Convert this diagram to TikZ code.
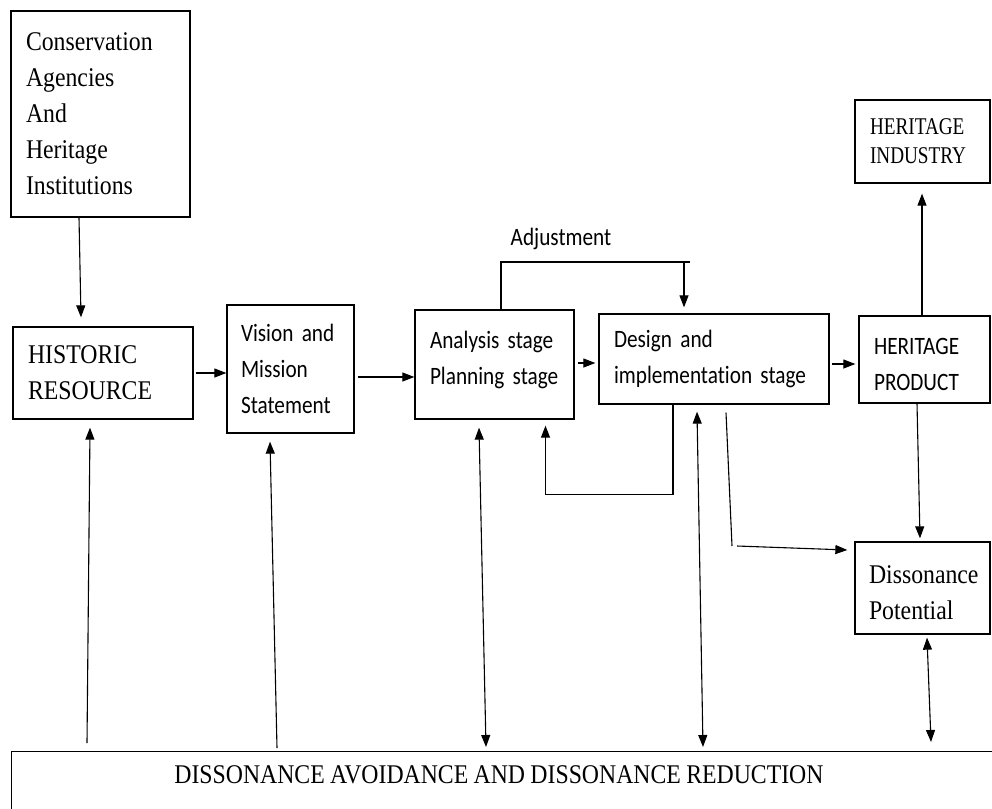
\documentclass[tikz,border=0pt]{standalone}
\usepackage{fontspec}
\setmainfont{Liberation Serif}[FakeStretch=0.88, WordSpace=0.9]
\newfontfamily\serifnarrow{Liberation Serif}[FakeStretch=0.8]
\newfontfamily\calfont{Carlito}[FakeStretch=0.85, WordSpace=0.8, Ligatures=CommonOff]
\usetikzlibrary{arrows.meta}
\begin{document}
\begin{tikzpicture}[x=1pt,y=-1pt,
  box/.style={draw, line width=1.3pt, inner ysep=0pt, align=left},
  arr/.style={-{Triangle[length=12pt,width=9pt]}, line width=1.1pt},
  darr/.style={{Triangle[length=12pt,width=9pt]}-{Triangle[length=12pt,width=9pt]}, line width=1.1pt},
  conn/.style={line width=1.1pt},
  serifL/.style={font=\fontsize{27}{36}\selectfont},
  serifS/.style={font=\serifnarrow\fontsize{24}{29}\selectfont},
  sansL/.style={font=\calfont\fontsize{25}{36}\selectfont}]
\useasboundingbox (0,0) rectangle (992,808);
\clip (0,0) rectangle (992,808);

% boxes
\node[box, serifL, minimum width=179pt, minimum height=206pt, text width=149pt, inner xsep=15pt] (cons) at (100.5,114) {Conservation\\Agencies\\And\\Heritage\\Institutions};
\node[box, serifL, minimum width=180pt, minimum height=92pt, text width=150pt, inner xsep=15pt] (hist) at (103,373) {HISTORIC\\RESOURCE};
\node[box, sansL, minimum width=127pt, minimum height=128pt, text width=99pt, inner xsep=14pt] (vis) at (290.5,369) {Vision and\\Mission\\Statement};
\node[box, sansL, minimum width=159pt, minimum height=109pt, text width=129pt, inner xsep=15pt] (ana) at (494.5,364.5) {Analysis stage\\Planning stage\rule[-14pt]{0pt}{14pt}};
\node[box, sansL, minimum width=230pt, minimum height=90pt, text width=200pt, inner xsep=15pt] (des) at (714,359) {Design and\\implementation stage};
\node[box, sansL, minimum width=131pt, minimum height=87pt, text width=101pt, inner xsep=15pt] (prod) at (924.5,359.5) {\rule{0pt}{26pt}HERITAGE\\PRODUCT};
\node[box, serifS, minimum width=135pt, minimum height=83pt, text width=105pt, inner xsep=15pt] (ind) at (922.5,141.5) {HERITAGE\\INDUSTRY};
\node[box, serifL, minimum width=135pt, minimum height=92pt, text width=107pt, inner xsep=14pt] (dpot) at (922.5,588) {\rule{0pt}{27pt}Dissonance\\Potential};
\node[draw, line width=1.3pt, minimum width=1000pt, minimum height=100pt, anchor=north west, inner sep=0pt] (botbox) at (11,751) {};
\node[serifL, inner sep=0pt] (bottxt) at (499,775) {DISSONANCE AVOIDANCE AND DISSONANCE REDUCTION};

% label
\node[sansL, inner sep=0pt] (adjtxt) at (561,239) {Adjustment};

% connectors
\draw[arr] ([xshift=-21.5pt]cons.south) -- ([xshift=-22pt,yshift=9pt]hist.north);

\coordinate (a2) at ([xshift=2pt]hist.east);
\draw[arr] (a2) -- (a2 -| vis.west);

\coordinate (a3) at ([xshift=3pt,yshift=-8pt]vis.east);
\draw[arr] (a3) -- (a3 -| ana.west);

\coordinate (a4) at ([xshift=3pt,yshift=1.5pt]ana.east);
\draw[arr, shorten >=3pt] (a4) -- (a4 -| des.west);

\coordinate (a5) at ([xshift=2pt,yshift=-5pt]des.east);
\draw[arr, shorten >=3pt] (a5) -- (a5 -| prod.west);

\draw[arr] ([xshift=-2.5pt]prod.north) -- ([xshift=-0.5pt,yshift=-10pt]ind.south);
\draw[arr] ([xshift=-7.5pt]prod.south) -- ([xshift=-2.5pt,yshift=3pt]dpot.north);
\draw[darr] ([xshift=4.5pt,yshift=-3pt]dpot.south) -- ([xshift=920pt,yshift=9pt]botbox.north west);

% adjustment loop
\coordinate (adjL) at ([xshift=6.5pt]ana.north);
\coordinate (adjR) at (690,262);
\draw[conn] (adjL) |- (adjR);
\coordinate (adjD) at (684,262);
\draw[arr] (adjD) -- ([xshift=-30pt,yshift=6pt]des.north);

% feedback design -> analysis
\draw[arr] ([xshift=-41pt]des.south) -- ++(0,90) -| ([xshift=51pt,yshift=-6pt]ana.south);

% design -> dissonance potential
\coordinate (b1) at ([xshift=12pt,yshift=-8pt]des.south);
\coordinate (b2) at (732,546);
\coordinate (b3) at (737,546);
\draw[conn] (b1) -- (b2);
\draw[arr] (b3) -- ([xshift=-7pt,yshift=38pt]dpot.west);

% links with bottom box
\draw[arr] ([xshift=76pt,yshift=8pt]botbox.north west) -- ([xshift=-13pt,yshift=-8pt]hist.south);
\draw[arr] ([xshift=266pt,yshift=3pt]botbox.north west) -- ([xshift=-20.5pt,yshift=-8pt]vis.south);
\draw[darr] ([xshift=-15.5pt,yshift=-8pt]ana.south) -- ([xshift=475pt,yshift=4pt]botbox.north west);
\draw[darr] ([xshift=-17pt,yshift=-7pt]des.south) -- ([xshift=692pt,yshift=4pt]botbox.north west);
\end{tikzpicture}
\end{document}
